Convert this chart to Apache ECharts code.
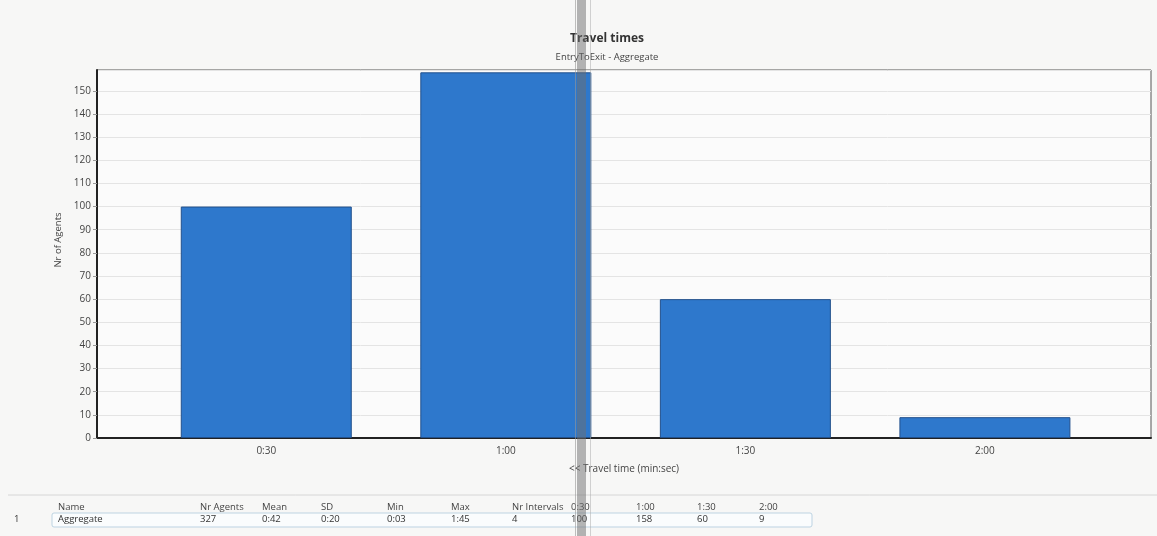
<!DOCTYPE html>
<html>
<head>
<meta charset="utf-8">
<style>
  html, body { margin: 0; padding: 0; background: #f7f7f6; }
  #chart { width: 1157px; height: 536px; }
</style>
<script src="https://cdn.jsdelivr.net/npm/echarts@6/dist/echarts.min.js"></script>
</head>
<body>
<div id="chart"></div>
<script>
// Histogram bins (bin end, m:ss) and their agent counts
const timeBins = ['0:30', '1:00', '1:30', '2:00'];
const binSeconds = [30, 60, 90, 120];
const agentCounts = [100, 158, 60, 9];
const yTickValues = [0, 10, 20, 30, 40, 50, 60, 70, 80, 90, 100, 110, 120, 130, 140, 150];

// Summary row shown in the results table
const tableColumns = ['Name', 'Nr Agents', 'Mean', 'SD', 'Min', 'Max', 'Nr Intervals'];
const summaryName = 'Aggregate';
const summaryMean = '0:42';
const summarySD = '0:20';
const summaryMin = '0:03';
const summaryMax = '1:45';

const FONT = '"Open Sans", "Noto Sans", sans-serif';
const nrAgents = agentCounts.reduce((a, b) => a + b, 0);

const chart = echarts.init(document.getElementById('chart'), null, { renderer: 'canvas' });

// Table layout: x of each column, header and row tops
const colX = [58, 200, 262, 321, 387, 451, 512, 571, 636, 697, 759];
const headerCells = tableColumns.concat(timeBins);
const rowCells = [summaryName, String(nrAgents), summaryMean, summarySD, summaryMin, summaryMax,
  String(timeBins.length)].concat(agentCounts.map(String));

const tableText = [];
headerCells.forEach((t, i) => tableText.push({
  type: 'text', left: colX[i], top: 502,
  style: { text: t, font: '9.5px ' + FONT, fill: '#444' }
}));
rowCells.forEach((t, i) => tableText.push({
  type: 'text', left: colX[i], top: 514,
  style: { text: t, font: '9.5px ' + FONT, fill: '#333' }
}));

chart.setOption({
  backgroundColor: '#f7f7f6',
  animation: false,
  title: {
    text: 'Travel times',
    subtext: 'EntryToExit - Aggregate',
    left: 602,
    textAlign: 'center',
    top: 28,
    itemGap: 7,
    textStyle: { fontFamily: FONT, fontSize: 12, fontWeight: 'bold', color: '#333' },
    subtextStyle: { fontFamily: FONT, fontSize: 9.5, color: '#444' }
  },
  grid: {
    left: 97, right: 6, top: 70, bottom: 98,
    show: true,
    backgroundColor: '#fbfbfb',
    borderColor: '#555',
    borderWidth: 1
  },
  xAxis: {
    type: 'value',
    min: 8.8,
    max: 140.8,
    name: '<< Travel time (min:sec)',
    nameLocation: 'middle',
    nameGap: 26,
    nameTextStyle: { fontFamily: FONT, fontSize: 10, color: '#444' },
    axisLine: { show: true, onZero: false, lineStyle: { color: '#222', width: 2 } },
    axisTick: { show: false },
    splitLine: { show: false },
    axisLabel: {
      customValues: binSeconds,
      formatter: v => timeBins[binSeconds.indexOf(v)] || '',
      margin: 8,
      fontFamily: FONT, fontSize: 10, color: '#444'
    }
  },
  yAxis: {
    type: 'value',
    min: 0,
    max: 159,
    interval: 10,
    name: 'Nr of Agents',
    nameLocation: 'middle',
    nameGap: 30,
    nameTextStyle: { fontFamily: FONT, fontSize: 9.5, color: '#444', padding: [0, 0, 0, 28] },
    axisLine: { show: true, lineStyle: { color: '#222', width: 2 } },
    axisTick: { show: true, length: 4, lineStyle: { color: '#999' } },
    splitLine: { show: true, lineStyle: { color: '#e4e4e4', width: 1 } },
    axisLabel: {
      showMaxLabel: false,
      formatter: v => (yTickValues.indexOf(v) >= 0 ? String(v) : ''),
      margin: 6,
      fontFamily: FONT, fontSize: 10, color: '#444'
    }
  },
  series: [{
    type: 'bar',
    data: binSeconds.map((s, i) => [s, agentCounts[i]]),
    barWidth: 171,
    itemStyle: { color: '#2e78cc', borderColor: '#22508c', borderWidth: 1 }
  }],
  graphic: [
    // separator above the results table
    { type: 'line', shape: { x1: 8, y1: 495, x2: 1157, y2: 495 },
      style: { stroke: '#d6d6d6', lineWidth: 1 } },
    // row outline
    { type: 'rect', shape: { x: 52, y: 513, width: 760, height: 14, r: 2 },
      style: { fill: '#fafcfd', stroke: '#bdd3e2', lineWidth: 1 } },
    { type: 'text', left: 14, top: 514,
      style: { text: '1', font: '9.5px ' + FONT, fill: '#333' } },
    // window splitter running through the view
    { type: 'rect', z: 100, shape: { x: 577, y: 0, width: 9, height: 536 },
      style: { fill: 'rgba(110,110,110,0.5)' } },
    { type: 'line', z: 100, shape: { x1: 575.5, y1: 0, x2: 575.5, y2: 536 },
      style: { stroke: 'rgba(150,150,150,0.6)', lineWidth: 1 } },
    { type: 'line', z: 100, shape: { x1: 590.5, y1: 0, x2: 590.5, y2: 536 },
      style: { stroke: 'rgba(170,170,170,0.5)', lineWidth: 1 } }
  ].concat(tableText)
});
</script>
</body>
</html>
